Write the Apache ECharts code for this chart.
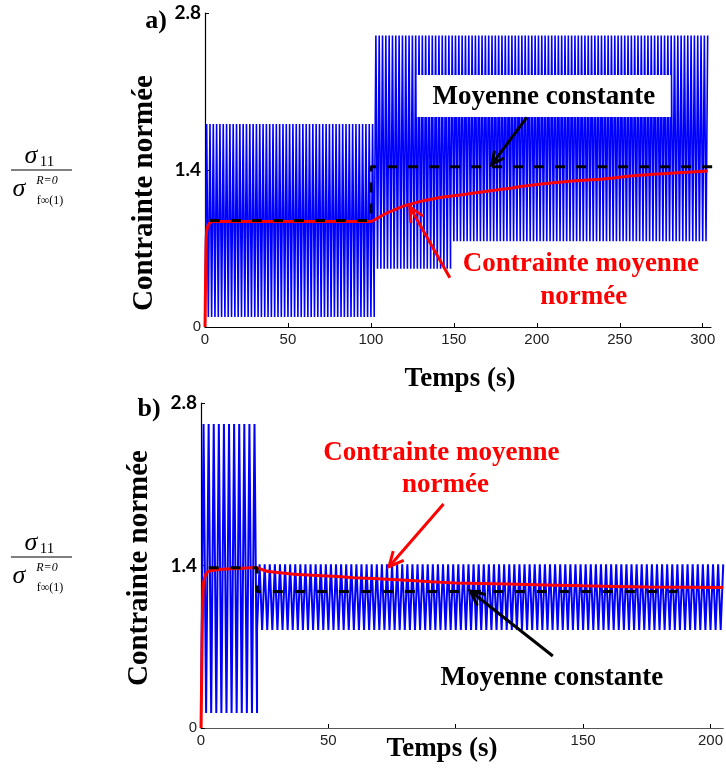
<!DOCTYPE html>
<html><head><meta charset="utf-8">
<script src="https://cdn.jsdelivr.net/npm/echarts@6/dist/echarts.min.js"></script>
<style>html,body{margin:0;padding:0;background:#fff}#c{width:726px;height:771px}</style>
</head><body><div id="c"></div>
<script>
// ---------- Panel a) ----------
// cyclic loading blocks (start s, end s, min, max)
const blocksA_start = [0, 102, 148];
const blocksA_end   = [102, 148, 303.5];
const blocksA_min   = [0.09, 0.52, 0.765];
const blocksA_max   = [1.81, 2.6, 2.6];
const periodA = 2;
// normalized mean stress (red)
const meanA_t = [0, 0.3, 0.6, 1, 2, 4, 100, 105, 110, 115, 120, 125, 130, 140, 150, 160, 180, 200, 220, 240, 260, 280, 303];
const meanA_v = [0, 0.35, 0.7, 0.85, 0.91, 0.94, 0.94, 0.98, 1.02, 1.05, 1.08, 1.10, 1.12, 1.15, 1.17, 1.19, 1.23, 1.27, 1.30, 1.32, 1.35, 1.37, 1.39];
// constant mean (black dashed)
const constA_t = [3, 100, 100, 320];
const constA_v = [0.95, 0.95, 1.43, 1.43];
const xTicksA = [0, 50, 100, 150, 200, 250, 300];

// ---------- Panel b) ----------
const blocksB_start = [0, 22];
const blocksB_end   = [22, 205];
const blocksB_min   = [0.13, 0.845];
const blocksB_max   = [2.62, 1.41];
const periodB = 2;
const meanB_t = [0, 0.3, 0.6, 1, 2, 3, 5, 10, 15, 20, 22, 25, 30, 40, 50, 60, 75, 90, 100, 120, 150, 175, 205];
const meanB_v = [0, 0.5, 1.0, 1.25, 1.33, 1.35, 1.36, 1.37, 1.375, 1.38, 1.38, 1.355, 1.34, 1.32, 1.31, 1.295, 1.28, 1.26, 1.25, 1.24, 1.225, 1.215, 1.21];
const constB_t = [3, 22, 22, 187];
const constB_v = [1.38, 1.38, 1.175, 1.175];
const xTicksB = [0, 50, 100, 150, 200];
const yTicks = [0, 1.4, 2.8];

function cyclic(starts, ends, mins, maxs, period) {
  const pts = [];
  for (let b = 0; b < starts.length; b++) {
    let k = 0;
    for (let t = starts[b]; t <= ends[b] + 1e-9; t += period / 2, k++) {
      pts.push([+t.toFixed(3), k % 2 === 0 ? mins[b] : maxs[b]]);
    }
  }
  return pts;
}
const zip = (a, b) => a.map((v, i) => [v, b[i]]);

const yLabel = {
  margin: 4,
  formatter: v => v === 0 ? '{n|0}' : '{b|' + v.toFixed(1) + '}',
  rich: {
    n: { fontFamily: 'Liberation Sans', fontSize: 15, color: '#222' },
    b: { fontFamily: 'Lato', fontWeight: 'bold', fontSize: 19, color: '#000' }
  }
};
function xAxis(grid, max, ticks, color) {
  return {
    type: 'value', gridIndex: grid, min: 0, max: max, interval: 50,
    axisLine: { lineStyle: { color: color, width: 1.2 } },
    axisTick: { inside: true, length: 4, customValues: ticks, lineStyle: { color: '#000' } },
    axisLabel: { customValues: ticks, margin: 5, fontFamily: 'Liberation Sans', fontSize: 15, color: '#222' },
    splitLine: { show: false }
  };
}
function yAxis(grid) {
  return {
    type: 'value', gridIndex: grid, min: 0, max: 2.8, interval: 1.4,
    axisLine: { show: true, lineStyle: { color: '#000', width: 1.2 } },
    axisTick: { inside: true, length: 4, customValues: yTicks, lineStyle: { color: '#000' } },
    axisLabel: Object.assign({ customValues: yTicks }, yLabel),
    splitLine: { show: false }
  };
}

const option = {
  animation: false,
  backgroundColor: '#fff',
  grid: [
    { left: 205, top: 13, width: 506, height: 314 },
    { left: 201, top: 403, width: 526, height: 325 }
  ],
  xAxis: [xAxis(0, 305, xTicksA, '#000'), xAxis(1, 205, xTicksB, '#555')],
  yAxis: [yAxis(0), yAxis(1)],
  series: [
    { type: 'line', xAxisIndex: 0, yAxisIndex: 0, data: cyclic(blocksA_start, blocksA_end, blocksA_min, blocksA_max, periodA),
      showSymbol: false, lineStyle: { color: '#0000ff', width: 1.6 }, z: 2 },
    { type: 'line', xAxisIndex: 0, yAxisIndex: 0, data: zip(meanA_t, meanA_v), smooth: 0.2,
      showSymbol: false, lineStyle: { color: '#ff0000', width: 3 }, z: 3 },
    { type: 'line', xAxisIndex: 0, yAxisIndex: 0, data: zip(constA_t, constA_v), clip: false,
      showSymbol: false, lineStyle: { color: '#000', width: 3, type: [10, 11] }, z: 4 },
    { type: 'line', xAxisIndex: 1, yAxisIndex: 1, data: cyclic(blocksB_start, blocksB_end, blocksB_min, blocksB_max, periodB),
      showSymbol: false, lineStyle: { color: '#0000ff', width: 2 }, z: 2 },
    { type: 'line', xAxisIndex: 1, yAxisIndex: 1, data: zip(meanB_t, meanB_v), smooth: 0.2,
      showSymbol: false, lineStyle: { color: '#ff0000', width: 3 }, z: 3 },
    { type: 'line', xAxisIndex: 1, yAxisIndex: 1, data: zip(constB_t, constB_v),
      showSymbol: false, lineStyle: { color: '#000', width: 3, type: [10, 12] }, z: 4 }
  ]
};

const chart = echarts.init(document.getElementById('c'), null, { renderer: 'canvas' });
chart.setOption(option);

const P = (g, t, v) => chart.convertToPixel({ gridIndex: g }, [t, v]);
function txt(x, y, text, size, opts) {
  opts = opts || {};
  const st = {
    text: text, fill: opts.color || '#000',
    fontFamily: opts.family || 'Liberation Serif',
    fontWeight: opts.weight || 'bold',
    fontStyle: opts.style || 'normal',
    fontSize: size,
    textAlign: opts.align || 'center', align: opts.align || 'center',
    textVerticalAlign: 'middle', verticalAlign: 'middle'
  };
  if (opts.bg) { st.backgroundColor = opts.bg; st.padding = [8, 4, 2, 4]; }
  return { type: 'text', x: x, y: y, rotation: opts.rot || 0, z: 100, style: st };
}
function dtxt(g, t, v, text, size, color) {
  const p = P(g, t, v);
  return txt(p[0], p[1], text, size, { color: color });
}
function arrow(g, from, to, color, w, headLen) {
  const a = P(g, from[0], from[1]), b = P(g, to[0], to[1]);
  const ang = Math.atan2(b[1] - a[1], b[0] - a[0]);
  const h1 = [b[0] - headLen * Math.cos(ang - 0.45), b[1] - headLen * Math.sin(ang - 0.45)];
  const h2 = [b[0] - headLen * Math.cos(ang + 0.45), b[1] - headLen * Math.sin(ang + 0.45)];
  return [
    { type: 'line', z: 100, shape: { x1: a[0], y1: a[1], x2: b[0], y2: b[1] }, style: { stroke: color, lineWidth: w } },
    { type: 'polyline', z: 100, shape: { points: [h1, b, h2] }, style: { stroke: color, lineWidth: w, fill: null } }
  ];
}
function fraction(dy) {
  const serif = 'Liberation Serif';
  return [
    txt(31, 156 + dy, 'σ', 26, { weight: 'normal', style: 'italic', family: serif }),
    txt(47, 162 + dy, '11', 15, { weight: 'normal', family: serif }),
    { type: 'line', z: 100, shape: { x1: 11, y1: 170 + dy, x2: 72, y2: 170 + dy }, style: { stroke: '#555', lineWidth: 1.3 } },
    txt(19, 189 + dy, 'σ', 26, { weight: 'normal', style: 'italic', family: serif }),
    txt(47, 181 + dy, 'R=0', 12, { weight: 'normal', style: 'italic', family: serif }),
    txt(50, 201 + dy, 'f∞(1)', 12, { weight: 'normal', family: serif })
  ];
}

const boxC = P(0, 204.2, 2.06);
const graphics = [].concat(
  fraction(0), fraction(387),
  [
    txt(156, 21, 'a)', 26),
    txt(149, 409, 'b)', 26),
    txt(145, 193, 'Contrainte normée', 29, { rot: Math.PI / 2 }),
    txt(140, 568, 'Contrainte normée', 29, { rot: Math.PI / 2 }),
    txt(460, 379, 'Temps (s)', 27),
    txt(442, 749, 'Temps (s)', 27, { bg: '#fff' }),
    { type: 'rect', z: 99, shape: { x: boxC[0] - 127, y: boxC[1] - 21, width: 254, height: 42 }, style: { fill: '#fff' } },
    txt(boxC[0], boxC[1] + 1, 'Moyenne constante', 27),
    dtxt(0, 226.5, 0.56, 'Contrainte moyenne', 27, '#ff0000'),
    dtxt(0, 228.3, 0.27, 'normée', 27, '#ff0000'),
    dtxt(1, 94.4, 2.37, 'Contrainte moyenne', 27, '#ff0000'),
    dtxt(1, 96, 2.09, 'normée', 27, '#ff0000'),
    dtxt(1, 137.7, 0.43, 'Moyenne constante', 27, '#000')
  ],
  arrow(0, [194, 1.87], [172.9, 1.45], '#000', 3, 14),
  arrow(0, [147.6, 0.44], [123.5, 1.07], '#ff0000', 3, 16),
  arrow(1, [95.2, 1.93], [73.8, 1.39], '#ff0000', 3, 16),
  arrow(1, [138.1, 0.62], [105.7, 1.18], '#000', 3, 16)
);

chart.setOption({ graphic: graphics });
</script>
</body></html>
